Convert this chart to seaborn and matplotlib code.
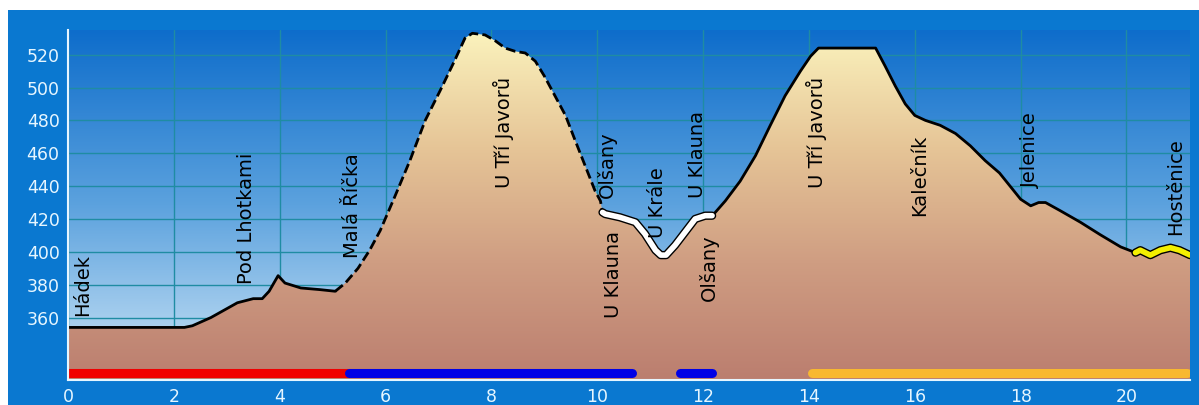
import numpy as np
import seaborn as sns
import matplotlib.pyplot as plt
from matplotlib.colors import LinearSegmentedColormap
from matplotlib.patches import Polygon

# elevation profile (km, m)
km = [0.0, 2.2, 2.35, 2.7, 3.2, 3.5, 3.67, 3.8, 3.97, 4.1, 4.4, 4.76, 5.05, 5.24,
      5.48, 5.7, 5.9, 6.18, 6.46, 6.75, 7.03, 7.3, 7.5, 7.64, 7.88, 8.07, 8.26,
      8.45, 8.64, 8.83, 9.0, 9.2, 9.4, 9.58, 9.77, 9.96, 10.06, 10.1, 10.15,
      10.43, 10.72, 10.9, 11.1, 11.2, 11.3, 11.47, 11.66, 11.85, 12.04, 12.17,
      12.23, 12.42, 12.7, 12.99, 13.27, 13.55, 13.84, 14.03, 14.18, 15.26, 15.44,
      15.63, 15.82, 16.0, 16.2, 16.48, 16.77, 17.05, 17.33, 17.6, 17.8, 18.0,
      18.19, 18.34, 18.47, 18.75, 19.13, 19.5, 19.89, 20.17, 20.26, 20.45, 20.64,
      20.83, 21.0, 21.2]
elev = [354, 354, 355, 360, 369, 371.5, 371.5, 376, 385.5, 381, 378, 377, 376, 381,
        390, 401, 413, 434, 455.5, 480, 498, 516, 530, 533, 532, 528.5, 524,
        522, 521, 516, 507, 495, 483, 468, 452.5, 437, 431, 424, 423,
        421, 418, 411, 401, 398, 398, 404, 412, 420, 422, 422,
        424, 431, 443, 458.5, 477, 495, 510, 519, 524, 524, 513,
        501, 490, 483, 480, 477, 472, 464.5, 455.5, 448, 440, 432,
        428, 430, 430, 425, 418, 410.5, 403, 399.5, 401, 398, 401,
        402.5, 401, 398]

# trail sections in the profile
dashed_from, dashed_to = 5.05, 10.1
white_from, white_to = 10.1, 12.17
yellow_from = 20.17

# marked route bands along the bottom
band_start = [0.0, 5.3, 11.57, 14.06]
band_end = [5.3, 10.66, 12.17, 21.15]
band_color = ["#f00000", "#0000e6", "#0000e6", "#f8b830"]

# waypoint labels
place = ["Hádek", "Pod Lhotkami", "Malá Říčka", "U Tří Javorů", "Olšany", "U Klauna",
         "U Krále", "U Klauna", "Olšany", "U Tří Javorů", "Kalečník", "Jelenice",
         "Hostěnice"]
place_km = [0.28, 3.38, 5.37, 8.22, 10.19, 10.3, 11.13, 11.9, 12.1, 14.14, 16.1,
            18.19, 20.93]
place_h = [361, 380.5, 396, 439, 433, 359.5, 408.5, 432.5, 370, 439, 422, 439, 410]

xticks = list(range(0, 21, 2))
yticks = list(range(360, 521, 20))

sns.set_style("white")
plt.rcParams["font.family"] = ["DejaVu Sans"]

fig = plt.figure(figsize=(11.99, 4.05), dpi=100, facecolor="#0a78d0")
# white margins around the blue panel
fig.patches.append(plt.Rectangle((0, 1 - 10 / 405), 1, 10 / 405, transform=fig.transFigure,
                                 facecolor="white", edgecolor="none"))
fig.patches.append(plt.Rectangle((0, 0), 8 / 1199, 1, transform=fig.transFigure,
                                 facecolor="white", edgecolor="none"))
ax = fig.add_axes([68 / 1199, 1 - 380 / 405, (1190 - 68) / 1199, 350 / 405])
xmax = 21.2
ax.set_xlim(0, xmax)
ax.set_ylim(322, 535)

x = np.array(km)
y = np.array(elev)

# sky gradient
sky = LinearSegmentedColormap.from_list("sky", ["#cde5f6", "#5ca2de", "#0e6dcb"])
ax.imshow(np.linspace(0, 1, 256).reshape(-1, 1), cmap=sky, origin="lower", aspect="auto",
          extent=(0, xmax, 322, 535), zorder=0)

for t in xticks:
    ax.axvline(t, color="#1f8ca3", lw=1, zorder=1)
for t in yticks:
    ax.axhline(t, color="#1f8ca3", lw=1, zorder=1)

# ground gradient clipped to profile
ground = LinearSegmentedColormap.from_list(
    "ground", ["#bb7e6f", "#cf9d82", "#e6c597", "#fbf3bd"])
img = ax.imshow(np.linspace(0, 1, 256).reshape(-1, 1), cmap=ground, origin="lower",
                aspect="auto", extent=(0, xmax, 322, 535), zorder=2)
poly = Polygon(np.vstack([np.column_stack([x, y]), [[x[-1], 322], [0, 322]]]),
               closed=True, facecolor="none", edgecolor="none")
ax.add_patch(poly)
img.set_clip_path(poly)

def seg(a, b):
    m = (x >= a - 1e-9) & (x <= b + 1e-9)
    return x[m], y[m]

sx, sy = seg(0, dashed_from)
sns.lineplot(x=sx, y=sy, ax=ax, color="black", lw=2.0, zorder=4)
sx, sy = seg(dashed_from, dashed_to)
sns.lineplot(x=sx, y=sy, ax=ax, color="black", lw=2.0, linestyle=(0, (3.5, 1.5)), zorder=4)
sx, sy = seg(white_from, white_to)
sns.lineplot(x=sx, y=sy, ax=ax, color="black", lw=6, zorder=4)
sns.lineplot(x=sx, y=sy, ax=ax, color="white", lw=4, zorder=5)
sx, sy = seg(white_to, yellow_from)
sns.lineplot(x=sx, y=sy, ax=ax, color="black", lw=2.0, zorder=4)
sx, sy = seg(yellow_from, 22)
sns.lineplot(x=sx, y=sy, ax=ax, color="black", lw=6, zorder=4)
sns.lineplot(x=sx, y=sy, ax=ax, color="#f4f000", lw=4, zorder=5)

for a, b, c in zip(band_start, band_end, band_color):
    ax.plot([a, b], [326.5, 326.5], color=c, lw=6.5, solid_capstyle="round", zorder=6)

for name, k, h in zip(place, place_km, place_h):
    ax.text(k, h, name, rotation=90, ha="center", va="bottom", fontsize=14,
            color="black", zorder=7)

ax.set_xticks(xticks)
ax.set_yticks(yticks)
ax.tick_params(colors="#e6f6ff", labelsize=12.5, length=4, width=1.2, direction="out", pad=2)
for s in ["top", "right"]:
    ax.spines[s].set_visible(False)
for s in ["left", "bottom"]:
    ax.spines[s].set_color("#e6f6ff")
    ax.spines[s].set_linewidth(1.5)
    ax.spines[s].set_zorder(8)

fig.savefig("out.png", dpi=100, facecolor=fig.get_facecolor())
